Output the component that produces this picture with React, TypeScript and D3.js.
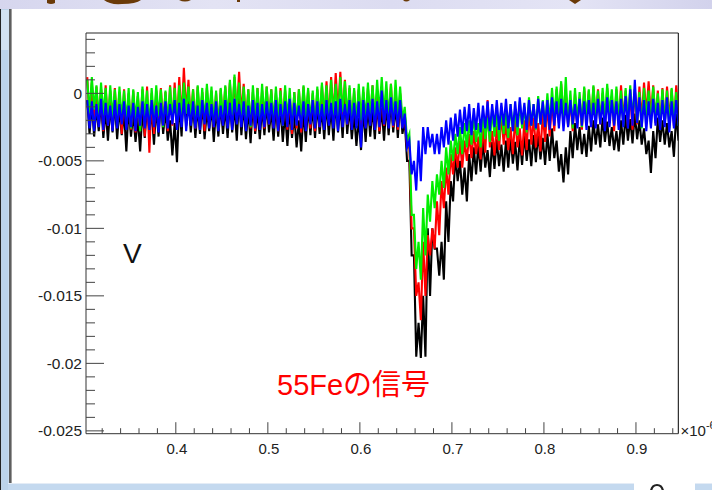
import React from "react";
import * as d3 from "d3";

// sample bins: t = T0 + DT * i  (units: 1e-6 s), values in mV (upper / lower edge of noise band)
const T0 = 0.305;
const DT = 0.005;

const blackHi = [
  -0.5, -0.8, -1.0, -0.6, -1.2, -0.9, -0.7, -1.1, -1.4, -1.0,
  -1.5, -1.8, -1.2, -0.9, -1.3, -1.0, -0.6, -1.2, -2.0, -2.2,
  -0.5, 0.8, -0.3, -0.8, -1.0, -0.7, -1.2, -0.9, -1.1, -0.8,
  -1.0, -0.6, -0.9, -0.2, -0.8, -1.1, -0.7, -1.3, -1.0, -0.8,
  -1.2, -0.9, -1.0, -1.4, -1.1, -1.6, -2.0, -1.2, -0.9, -1.0,
  -0.8, -1.1, -0.7, -1.0, -0.6, -0.9, -0.2, -1.0, -1.5, -1.8,
  -1.2, -0.9, -1.0, -0.7, -1.1, -0.8, -0.6, -0.9, -0.5, -2.0,
  -5.0, -12.0, -17.0, -15.0, -10.0, -10.0, -11.5, -11.0, -8.0, -6.5,
  -4.5, -5.0, -5.5, -4.5, -4.0, -3.8, -3.5, -4.2, -3.6, -3.4,
  -3.8, -3.5, -3.2, -3.6, -3.3, -3.0, -3.4, -3.1, -2.9, -3.3,
  -3.0, -2.6, -3.5, -4.5, -4.0, -2.8, -2.2, -2.5, -3.0, -2.4,
  -2.0, -2.3, -1.8, -2.1, -2.5, -2.8, -2.0, -1.6, -1.9, -1.5,
  -2.0, -2.6, -3.5, -2.8, -1.8, -2.0, -2.2, -2.8, -1.5,
];
const blackLo = [
  -3.0, -3.2, -2.8, -3.3, -3.5, -2.9, -3.4, -3.1, -4.3, -3.2,
  -3.6, -4.3, -3.3, -3.0, -3.8, -3.2, -3.0, -3.5, -4.6, -5.1,
  -3.2, -2.4, -2.9, -3.3, -3.0, -3.4, -2.8, -3.6, -3.2, -3.0,
  -3.3, -2.9, -3.5, -3.1, -3.4, -3.7, -3.0, -3.4, -3.1, -2.9,
  -3.5, -3.2, -3.6, -3.9, -3.3, -4.0, -4.3, -3.6, -3.1, -3.3,
  -3.0, -3.4, -3.1, -3.5, -2.9, -3.3, -3.0, -3.4, -3.9, -4.2,
  -3.6, -3.2, -3.4, -3.0, -3.5, -3.1, -2.9, -3.3, -3.0, -5.0,
  -12.0, -19.5, -19.6, -19.5, -15.0, -11.5, -13.5, -13.8, -11.0, -8.0,
  -6.5, -7.5, -8.0, -6.5, -6.0, -5.8, -5.5, -6.2, -5.6, -5.4,
  -5.8, -5.5, -5.2, -5.7, -5.3, -5.0, -5.4, -5.1, -4.9, -5.3,
  -5.0, -4.8, -5.8, -6.6, -6.0, -4.8, -4.2, -4.5, -4.7, -4.3,
  -3.8, -4.0, -3.6, -3.9, -4.2, -4.3, -3.8, -3.5, -3.7, -3.4,
  -3.8, -4.5, -5.9, -4.8, -3.6, -3.8, -4.0, -4.7, -3.5,
];

const redHi = [
  1.2, 0.8, 0.5, 0.3, 0.6, 0.2, 0.4, 0.1, 0.3, 0.0,
  0.2, -0.2, 0.3, 0.5, 0.0, 0.2, 0.4, 0.1, 0.6, 0.8,
  1.2, 1.9, 1.0, 0.3, 0.5, 0.1, 0.4, 0.2, 0.0, 0.3,
  0.5, 0.8, 1.2, 1.6, 0.7, 0.3, 0.1, 0.4, 0.2, 0.5,
  0.3, 0.0, 0.4, 0.2, -0.2, 0.1, 0.3, 0.5, 0.2, 0.0,
  0.3, 0.6, 0.9, 1.2, 1.5, 1.6, 1.0, 0.4, 0.2, 0.3,
  0.1, 0.4, 0.6, 0.2, 0.5, 0.3, 0.7, 0.4, 0.0, -1.5,
  -4.0, -10.0, -14.0, -11.0, -10.5, -10.0, -8.0, -6.5, -5.5, -4.5,
  -4.0, -3.5, -3.5, -3.0, -2.8, -3.2, -2.6, -0.5, -2.8, -2.4,
  -1.5, -2.2, -2.5, -1.8, -2.6, -2.0, -1.0, -1.8, -2.2, -1.5,
  -0.8, -0.5, 0.3, 0.7, 0.2, -0.5, 0.0, -0.3, 0.4, 0.2,
  0.5, 0.3, 0.0, 0.4, -0.2, 0.3, 0.6, 0.2, 0.0, 0.3,
  0.5, 0.8, 0.9, 0.6, 0.2, 0.4, 0.5, 0.3, 0.6,
];
const redLo = [
  -2.0, -2.5, -2.2, -2.8, -2.4, -2.6, -2.2, -3.0, -2.5, -2.7,
  -2.9, -2.6, -3.2, -4.4, -3.0, -2.5, -2.3, -2.8, -2.4, -2.6,
  -2.0, -1.5, -2.2, -2.6, -2.4, -2.8, -2.3, -2.5, -2.7, -2.2,
  -2.4, -2.0, -1.8, -1.6, -2.3, -2.6, -2.8, -2.4, -2.6, -2.3,
  -2.5, -2.8, -2.4, -2.7, -3.0, -2.6, -2.9, -2.4, -2.6, -2.8,
  -2.5, -2.2, -2.0, -1.8, -1.5, -1.8, -2.3, -2.6, -2.4, -2.7,
  -2.5, -2.3, -2.6, -2.8, -2.4, -2.2, -2.5, -2.7, -2.5, -4.0,
  -10.0, -15.0, -16.8, -15.0, -12.0, -11.5, -10.5, -8.5, -7.5, -6.0,
  -5.5, -5.5, -5.0, -4.8, -4.5, -4.9, -4.4, -4.0, -4.6, -4.2,
  -3.8, -4.2, -4.5, -4.0, -4.6, -4.2, -3.8, -4.0, -4.3, -3.6,
  -3.2, -2.8, -2.2, -1.8, -2.4, -2.8, -2.5, -2.7, -2.2, -2.5,
  -2.0, -2.3, -2.6, -2.2, -2.8, -2.4, -2.0, -2.5, -2.7, -2.3,
  -2.0, -1.6, -1.8, -2.2, -2.6, -2.3, -2.0, -2.4, -2.1,
];

const greenHi = [
  1.0, 1.2, 0.6, 0.8, 0.4, 0.6, 0.3, 0.5, 0.2, 0.4,
  0.3, 0.1, 0.5, 0.2, 0.4, 0.6, 0.3, 0.2, 0.5, 0.4,
  0.6, 0.8, 0.5, 0.3, 0.6, 0.4, 0.7, 0.5, 0.2, 0.4,
  0.6, 1.0, 1.4, 0.8, 0.5, 0.3, 0.6, 0.4, 0.7, 0.5,
  0.3, 0.5, 0.2, 0.6, 0.4, 0.1, 0.3, 0.6, 0.4, 0.2,
  0.5, 0.8, 0.6, 1.0, 0.7, 1.2, 0.9, 0.6, 0.4, 0.7,
  0.5, 0.8, 0.6, 1.0, 1.2, 0.9, 0.7, 1.0, 0.5, -1.0,
  -3.0, -9.0, -11.0, -8.5, -7.5, -6.5, -6.0, -5.0, -4.0, -3.5,
  -3.0, -2.5, -2.2, -2.0, -1.6, -2.2, -1.5, -1.8, -1.2, -1.5,
  -1.0, -1.4, -0.8, -1.2, -0.6, -1.0, -0.3, -0.8, -0.2, -0.5,
  0.0, 0.4, 0.5, 0.9, 1.2, 0.2, 0.4, 0.1, 0.5, 0.3,
  0.6, 0.2, 0.4, 0.7, 0.3, 0.5, 0.2, 0.4, 0.6, 0.3,
  0.1, 0.4, 0.2, 0.5, 0.0, 0.3, 0.2, 0.4, 0.1,
];
const greenLo = [
  -1.5, -1.2, -2.0, -1.6, -2.2, -1.8, -2.4, -1.9, -2.2, -2.6,
  -2.0, -2.8, -1.8, -2.4, -2.1, -1.7, -2.5, -2.2, -2.0, -2.3,
  -1.8, -1.5, -2.0, -2.4, -1.9, -2.2, -1.7, -2.3, -2.6, -2.0,
  -1.9, -1.6, -1.4, -2.0, -2.3, -2.5, -1.9, -2.2, -1.8, -2.1,
  -2.2, -1.9, -2.4, -2.0, -2.6, -2.3, -2.0, -1.8, -2.2, -2.5,
  -2.0, -1.7, -2.1, -1.6, -1.9, -1.4, -1.8, -2.2, -2.4, -2.0,
  -2.1, -1.8, -2.0, -1.5, -1.6, -1.9, -2.2, -1.8, -2.0, -3.5,
  -9.0, -13.0, -13.8, -12.0, -9.5, -8.5, -7.5, -7.0, -6.0, -5.0,
  -4.5, -4.5, -4.0, -3.8, -3.6, -4.0, -3.4, -3.6, -3.2, -3.5,
  -3.0, -3.3, -2.8, -3.1, -2.6, -2.9, -2.4, -2.7, -2.3, -2.5,
  -2.2, -1.8, -1.5, -2.0, -2.4, -2.6, -2.2, -2.5, -2.0, -2.3,
  -1.8, -2.2, -2.0, -1.6, -2.3, -2.0, -2.4, -2.1, -1.8, -2.2,
  -2.6, -2.0, -2.3, -1.8, -2.5, -2.2, -2.6, -2.0, -2.4,
];

const blueHi = [
  -0.5, -0.6, -0.8, -0.4, -0.7, -0.9, -0.5, -0.8, -0.6, -0.9,
  -0.7, -1.0, -0.6, -0.8, -0.5, -0.9, -0.7, -0.6, -0.8, -0.5,
  -0.7, -0.4, -0.8, -0.6, -0.9, -0.5, -0.7, -0.8, -0.6, -0.9,
  -0.5, -0.7, -0.4, -0.8, -0.6, -0.9, -0.5, -0.7, -0.8, -0.6,
  -0.7, -0.5, -0.8, -0.6, -0.4, -0.7, -0.9, -0.6, -0.8, -0.5,
  -0.6, -0.8, -0.5, -0.7, -0.6, -0.4, -0.8, -0.5, -0.7, -0.6,
  -0.5, -0.7, -0.4, -0.6, 0.2, -0.5, -0.3, -0.6, -0.5, -1.5,
  -3.5, -5.0, -3.5, -2.5, -2.5, -3.0, -3.0, -2.5, -2.0, -1.8,
  -1.5, -1.2, -1.0, -0.8, -1.1, -0.7, -0.9, -0.6, -0.8, -0.5,
  -0.7, -0.4, -0.8, -0.6, -0.3, -0.7, -0.5, -0.8, -0.4, -0.6,
  -0.5, -0.3, -0.6, -0.4, -0.7, -0.5, -0.8, -0.4, -0.6, -0.5,
  -0.7, -0.4, -0.6, -0.3, -0.5, -0.6, -0.4, -0.2, 0.3, 1.0,
  -0.3, -0.5, -0.6, -0.4, -0.7, -0.5, -0.3, -0.6, -0.5,
];
const blueLo = [
  -2.6, -2.8, -2.5, -2.7, -2.4, -2.8, -2.6, -2.3, -2.7, -2.5,
  -2.8, -2.4, -2.6, -2.7, -2.5, -2.9, -2.4, -2.6, -2.3, -2.7,
  -2.5, -2.8, -2.4, -2.6, -2.7, -2.3, -2.6, -2.5, -2.8, -2.4,
  -2.6, -2.7, -2.3, -2.5, -2.8, -2.4, -2.6, -2.7, -2.5, -2.3,
  -2.6, -2.8, -2.4, -2.5, -2.7, -2.4, -2.6, -2.8, -2.3, -2.6,
  -2.5, -2.7, -2.4, -2.6, -2.8, -2.5, -2.3, -2.7, -2.6, -4.0,
  -2.6, -2.4, -2.7, -2.5, -2.3, -2.6, -2.4, -2.5, -2.6, -4.0,
  -6.0, -7.2, -6.5, -4.5, -4.0, -4.5, -4.5, -4.0, -3.8, -3.5,
  -3.2, -3.0, -2.8, -3.1, -2.7, -2.9, -2.6, -2.8, -2.5, -2.7,
  -2.4, -2.6, -2.8, -2.5, -2.3, -2.7, -2.4, -2.6, -2.3, -2.5,
  -2.7, -2.4, -2.6, -2.8, -2.5, -2.3, -2.6, -2.4, -2.7, -2.5,
  -2.6, -2.3, -2.8, -2.5, -2.4, -2.7, -2.5, -2.6, -2.4, -2.2,
  -2.5, -2.8, -2.6, -2.4, -2.7, -2.5, -2.9, -2.6, -2.4,
];

const seriesNames = ["black", "red", "green", "blue"];
const seriesColors = ["#000000", "#ff0000", "#00ee00", "#0000ff"];
const xTickLabels = ["0.4", "0.5", "0.6", "0.7", "0.8", "0.9"];
const yTickLabels = ["0", "-0.005", "-0.01", "-0.015", "-0.02", "-0.025"];
const yAxisTitle = "V";
const annotation = "55Feの信号";

export default function App() {
  const W = 712, H = 490;
  const L = 86, R = 678.3, T = 33, B = 433.7;
  const x = d3.scaleLinear().domain([0.3024, 0.946]).range([L, R]);
  const y = d3.scaleLinear().domain([-0.02521, 0.00447]).range([B, T]);
  const line = d3.line<[number, number]>().x((d) => x(d[0])).y((d) => y(d[1]));

  const his = [blackHi, redHi, greenHi, blueHi];
  const los = [blackLo, redLo, greenLo, blueLo];
  const paths = seriesNames.map((name, s) => {
    const pts: [number, number][] = [];
    his[s].forEach((h, i) => {
      const t = T0 + DT * i;
      pts.push([t - DT / 4, h / 1000]);
      pts.push([t + DT / 4, los[s][i] / 1000]);
    });
    return { name, color: seriesColors[s], d: line(pts) || "" };
  });

  const yTicks = d3.range(4, -26, -1).map((v) => ({ v: v / 1000, major: v % 5 === 0 }));
  const xTicks = d3.range(16, 48).map((k) => ({ v: k * 0.02, major: k % 5 === 0 }));
  const xMajors = xTickLabels.map((s) => +s);
  const yMajors = yTickLabels.map((s) => +s);
  const font = "'Liberation Sans', Arial, 'Noto Sans CJK JP', sans-serif";
  const brown = "#6a3a08";

  return (
    <div style={{ position: "fixed", left: 0, top: 0, width: W, height: H, background: "#fff" }}>
      <svg width={W} height={H} style={{ display: "block" }}>
        <defs>
          <linearGradient id="band" x1="0" x2="1" y1="0" y2="0">
            <stop offset="0" stopColor="#d6d6ee" />
            <stop offset="0.3" stopColor="#e3e3f4" />
            <stop offset="0.55" stopColor="#dcdcf1" />
            <stop offset="0.8" stopColor="#e4e4f5" />
            <stop offset="1" stopColor="#d2d2ec" />
          </linearGradient>
          <clipPath id="plotClip">
            <rect x={L} y={T} width={R - L} height={B - T} />
          </clipPath>
        </defs>
        <rect x={0} y={0} width={W} height={H} fill="#ffffff" />
        {/* slide decorations */}
        <rect x={0} y={0} width={W} height={9} fill="url(#band)" />
        <path d="M47,0 L55,0 L55,3 Q51,5 47,3 Z" fill={brown} />
        <path d="M104,0 Q110,5 122,4 Q136,4 141,0 Z" fill={brown} />
        <path d="M179,0 Q185,3 191,0 Z" fill={brown} />
        <rect x={237} y={0} width={3} height={2} fill={brown} />
        <path d="M403,0 Q406,3 410,0 Z" fill={brown} />
        <path d="M569,0 L575,4 L581,0 Z" fill={brown} />
        <rect x={0} y={9} width={1.2} height={H - 9} fill="#222" />
        <rect x={1.2} y={9} width={7.6} height={H - 9} fill="#bcd3ea" />
        <rect x={1.2} y={10} width={7.6} height={40} fill="#d2e1f1" />
        <rect x={9} y={9} width={2.6} height={477} fill="#5e5e5e" />
        <rect x={8} y={483} width={626} height={1} fill="#e4ecf6" />
        <rect x={8} y={484} width={626} height={6} fill="#c4d9ef" />
        <rect x={695} y={483} width={17} height={1} fill="#e4ecf6" />
        <rect x={695} y={484} width={17} height={6} fill="#c4d9ef" />
        <path d="M651,491 Q652,485 657,485 Q662,485 663,491" fill="none" stroke="#222" strokeWidth={2.2} />

        {/* traces */}
        <g clipPath="url(#plotClip)">
          {paths.map((p) => (
            <path key={p.name} d={p.d} fill="none" stroke={p.color} strokeWidth={2.1} strokeLinejoin="miter" strokeMiterlimit={6} />
          ))}
        </g>

        {/* frame */}
        <line x1={L} x2={R} y1={T} y2={T} stroke="#6e6e6e" strokeWidth={1.6} />
        <line x1={R} x2={R} y1={T} y2={B} stroke="#000" strokeWidth={1} />
        <line x1={L} x2={L} y1={T} y2={B} stroke="#333" strokeWidth={1} />
        <line x1={L} x2={R} y1={B} y2={B} stroke="#333" strokeWidth={1} />

        {/* y ticks */}
        {yTicks.map((t, i) => (
          <line key={"yt" + i} x1={L} x2={L + (t.major ? 18 : 9)} y1={y(t.v)} y2={y(t.v)} stroke="#444" strokeWidth={1} />
        ))}
        {yMajors.map((v, i) => (
          <text key={"yl" + i} x={82} y={y(v) + 5.5} textAnchor="end" fontFamily={font} fontSize={15.5} fill="#222">
            {yTickLabels[i]}
          </text>
        ))}

        {/* x ticks */}
        {xTicks.map((t, i) => (
          <line key={"xt" + i} x1={x(t.v)} x2={x(t.v)} y1={B} y2={B - (t.major ? 11.5 : 5.5)} stroke="#444" strokeWidth={1} />
        ))}
        {xMajors.map((v, i) => (
          <text key={"xl" + i} x={x(v) + 1} y={454} textAnchor="middle" fontFamily={font} fontSize={15} fill="#222">
            {xTickLabels[i]}
          </text>
        ))}
        <text x={680.5} y={436} fontFamily={font} fontSize={15} fill="#222">
          ×10<tspan dy={-7} fontSize={11}>-6</tspan>
        </text>

        {/* labels */}
        <text x={123} y={263} fontFamily={font} fontSize={28} fill="#111">{yAxisTitle}</text>
        <text x={277} y={395} fontFamily={font} fontSize={29} fill="#ff0000">{annotation}</text>
      </svg>
    </div>
  );
}
